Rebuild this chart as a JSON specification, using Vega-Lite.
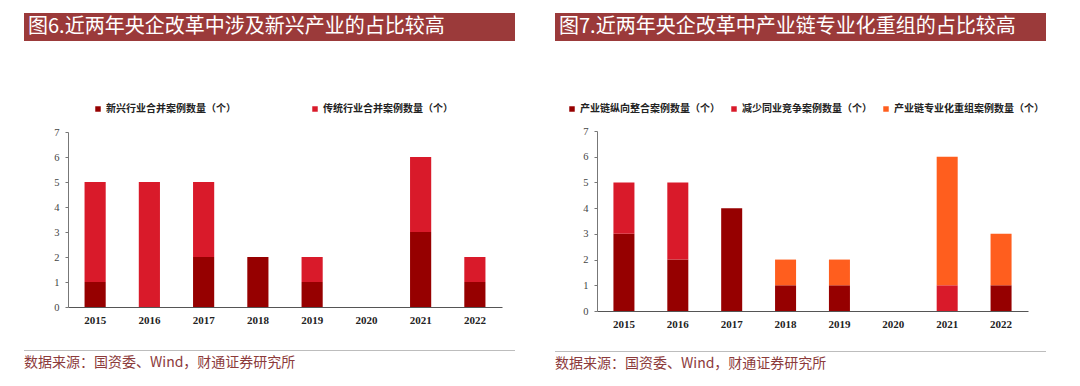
{
  "$schema": "https://vega.github.io/schema/vega-lite/v6.json",
  "background": "white",
  "padding": {"left": 24, "top": 13, "right": 0, "bottom": 0},
  "spacing": 40,
  "config": {
    "view": {"stroke": null},
    "font": "Noto Sans CJK SC",
    "axisX": {"title": null, "labelAngle": 0, "labelFont": "Liberation Serif", "labelFontWeight": "bold", "labelFontSize": 11, "labelColor": "#222222", "ticks": false, "domainColor": "#555555", "domainWidth": 1, "labelPadding": 7, "grid": false},
    "axisY": {"title": null, "values": [0, 1, 2, 3, 4, 5, 6, 7], "labelFont": "Liberation Serif", "labelFontSize": 10.5, "labelColor": "#444444", "tickSize": 3, "tickColor": "#777777", "domainColor": "#777777", "grid": false, "labelPadding": 6},
    "legend": {"orient": "none", "direction": "horizontal", "title": null, "symbolType": "square", "symbolSize": 30, "symbolStrokeWidth": 0, "labelFontSize": 10, "labelFont": "Noto Sans CJK SC", "labelFontWeight": "bold", "labelColor": "#222222", "labelLimit": 300, "labelOffset": 3, "padding": 0},
    "title": {"font": "Noto Sans CJK SC"}
  },
  "datasets": {
    "fig6": [
      {"year": "2015", "s": "新兴行业合并案例数量（个）", "k": 1, "v": 1},
      {"year": "2015", "s": "传统行业合并案例数量（个）", "k": 2, "v": 4},
      {"year": "2016", "s": "新兴行业合并案例数量（个）", "k": 1, "v": 0},
      {"year": "2016", "s": "传统行业合并案例数量（个）", "k": 2, "v": 5},
      {"year": "2017", "s": "新兴行业合并案例数量（个）", "k": 1, "v": 2},
      {"year": "2017", "s": "传统行业合并案例数量（个）", "k": 2, "v": 3},
      {"year": "2018", "s": "新兴行业合并案例数量（个）", "k": 1, "v": 2},
      {"year": "2018", "s": "传统行业合并案例数量（个）", "k": 2, "v": 0},
      {"year": "2019", "s": "新兴行业合并案例数量（个）", "k": 1, "v": 1},
      {"year": "2019", "s": "传统行业合并案例数量（个）", "k": 2, "v": 1},
      {"year": "2020", "s": "新兴行业合并案例数量（个）", "k": 1, "v": 0},
      {"year": "2020", "s": "传统行业合并案例数量（个）", "k": 2, "v": 0},
      {"year": "2021", "s": "新兴行业合并案例数量（个）", "k": 1, "v": 3},
      {"year": "2021", "s": "传统行业合并案例数量（个）", "k": 2, "v": 3},
      {"year": "2022", "s": "新兴行业合并案例数量（个）", "k": 1, "v": 1},
      {"year": "2022", "s": "传统行业合并案例数量（个）", "k": 2, "v": 1}
    ],
    "fig7": [
      {"year": "2015", "s": "产业链纵向整合案例数量（个）", "k": 1, "v": 3},
      {"year": "2015", "s": "减少同业竞争案例数量（个）", "k": 2, "v": 2},
      {"year": "2015", "s": "产业链专业化重组案例数量（个）", "k": 3, "v": 0},
      {"year": "2016", "s": "产业链纵向整合案例数量（个）", "k": 1, "v": 2},
      {"year": "2016", "s": "减少同业竞争案例数量（个）", "k": 2, "v": 3},
      {"year": "2016", "s": "产业链专业化重组案例数量（个）", "k": 3, "v": 0},
      {"year": "2017", "s": "产业链纵向整合案例数量（个）", "k": 1, "v": 4},
      {"year": "2017", "s": "减少同业竞争案例数量（个）", "k": 2, "v": 0},
      {"year": "2017", "s": "产业链专业化重组案例数量（个）", "k": 3, "v": 0},
      {"year": "2018", "s": "产业链纵向整合案例数量（个）", "k": 1, "v": 1},
      {"year": "2018", "s": "减少同业竞争案例数量（个）", "k": 2, "v": 0},
      {"year": "2018", "s": "产业链专业化重组案例数量（个）", "k": 3, "v": 1},
      {"year": "2019", "s": "产业链纵向整合案例数量（个）", "k": 1, "v": 1},
      {"year": "2019", "s": "减少同业竞争案例数量（个）", "k": 2, "v": 0},
      {"year": "2019", "s": "产业链专业化重组案例数量（个）", "k": 3, "v": 1},
      {"year": "2020", "s": "产业链纵向整合案例数量（个）", "k": 1, "v": 0},
      {"year": "2020", "s": "减少同业竞争案例数量（个）", "k": 2, "v": 0},
      {"year": "2020", "s": "产业链专业化重组案例数量（个）", "k": 3, "v": 0},
      {"year": "2021", "s": "产业链纵向整合案例数量（个）", "k": 1, "v": 0},
      {"year": "2021", "s": "减少同业竞争案例数量（个）", "k": 2, "v": 1},
      {"year": "2021", "s": "产业链专业化重组案例数量（个）", "k": 3, "v": 5},
      {"year": "2022", "s": "产业链纵向整合案例数量（个）", "k": 1, "v": 1},
      {"year": "2022", "s": "减少同业竞争案例数量（个）", "k": 2, "v": 0},
      {"year": "2022", "s": "产业链专业化重组案例数量（个）", "k": 3, "v": 2}
    ],
    "blank": [{"t": ""}]
  },
  "hconcat": [
    {
      "spacing": 86,
      "vconcat": [
        {
          "width": 491, "height": 28,
          "view": {"fill": "#9B3A3A", "stroke": null},
          "title": {"text": "图6.近两年央企改革中涉及新兴产业的占比较高", "orient": "top", "anchor": "start", "offset": -24, "fontSize": 20, "fontWeight": "normal", "color": "#FFFFFF", "dx": 4},
          "data": {"name": "blank"},
          "mark": "text",
          "encoding": {"text": {"field": "t"}}
        },
        {
          "spacing": 19,
          "vconcat": [
            {
              "width": 491, "height": 175,
              "data": {"name": "fig6"},
              "mark": {"type": "bar"},
              "encoding": {
                "x": {"field": "year", "type": "ordinal", "scale": {"range": [44, 478], "paddingInner": 0.61, "paddingOuter": 0.305}},
                "y": {"field": "v", "type": "quantitative", "stack": "zero", "scale": {"domain": [0, 7], "nice": false}, "axis": {"offset": -44}},
                "color": {"field": "s", "type": "nominal", "scale": {"domain": ["新兴行业合并案例数量（个）", "传统行业合并案例数量（个）"], "range": ["#960000", "#D91A2A"]}, "legend": {"legendX": 69, "legendY": 91, "columnPadding": 74}},
                "order": {"field": "k", "type": "quantitative"}
              }
            },
            {
              "width": 491, "height": 1,
              "view": {"fill": "#BDBDBD", "stroke": null},
              "title": {"text": "数据来源：国资委、Wind，财通证券研究所", "orient": "bottom", "anchor": "start", "offset": 0, "fontSize": 14, "fontWeight": "normal", "color": "#8C3B3B"},
              "data": {"name": "blank"},
              "mark": "text",
              "encoding": {"text": {"field": "t"}}
            }
          ]
        }
      ]
    },
    {
      "spacing": 85,
      "vconcat": [
        {
          "width": 491, "height": 28,
          "view": {"fill": "#9B3A3A", "stroke": null},
          "title": {"text": "图7.近两年央企改革中产业链专业化重组的占比较高", "orient": "top", "anchor": "start", "offset": -24, "fontSize": 20, "fontWeight": "normal", "color": "#FFFFFF", "dx": 4},
          "data": {"name": "blank"},
          "mark": "text",
          "encoding": {"text": {"field": "t"}}
        },
        {
          "spacing": 16,
          "vconcat": [
            {
              "width": 491, "height": 180,
              "data": {"name": "fig7"},
              "mark": {"type": "bar"},
              "encoding": {
                "x": {"field": "year", "type": "ordinal", "scale": {"range": [42, 473], "paddingInner": 0.61, "paddingOuter": 0.305}},
                "y": {"field": "v", "type": "quantitative", "stack": "zero", "scale": {"domain": [0, 7], "nice": false}, "axis": {"offset": -42}},
                "color": {"field": "s", "type": "nominal", "scale": {"domain": ["产业链纵向整合案例数量（个）", "减少同业竞争案例数量（个）", "产业链专业化重组案例数量（个）"], "range": ["#960000", "#D91A2A", "#FF5E1E"]}, "legend": {"legendX": 12, "legendY": 91, "columnPadding": 9}},
                "order": {"field": "k", "type": "quantitative"}
              }
            },
            {
              "width": 491, "height": 1,
              "view": {"fill": "#BDBDBD", "stroke": null},
              "title": {"text": "数据来源：国资委、Wind，财通证券研究所", "orient": "bottom", "anchor": "start", "offset": 0, "fontSize": 14, "fontWeight": "normal", "color": "#8C3B3B"},
              "data": {"name": "blank"},
              "mark": "text",
              "encoding": {"text": {"field": "t"}}
            }
          ]
        }
      ]
    }
  ],
  "resolve": {"scale": {"color": "independent"}}
}
